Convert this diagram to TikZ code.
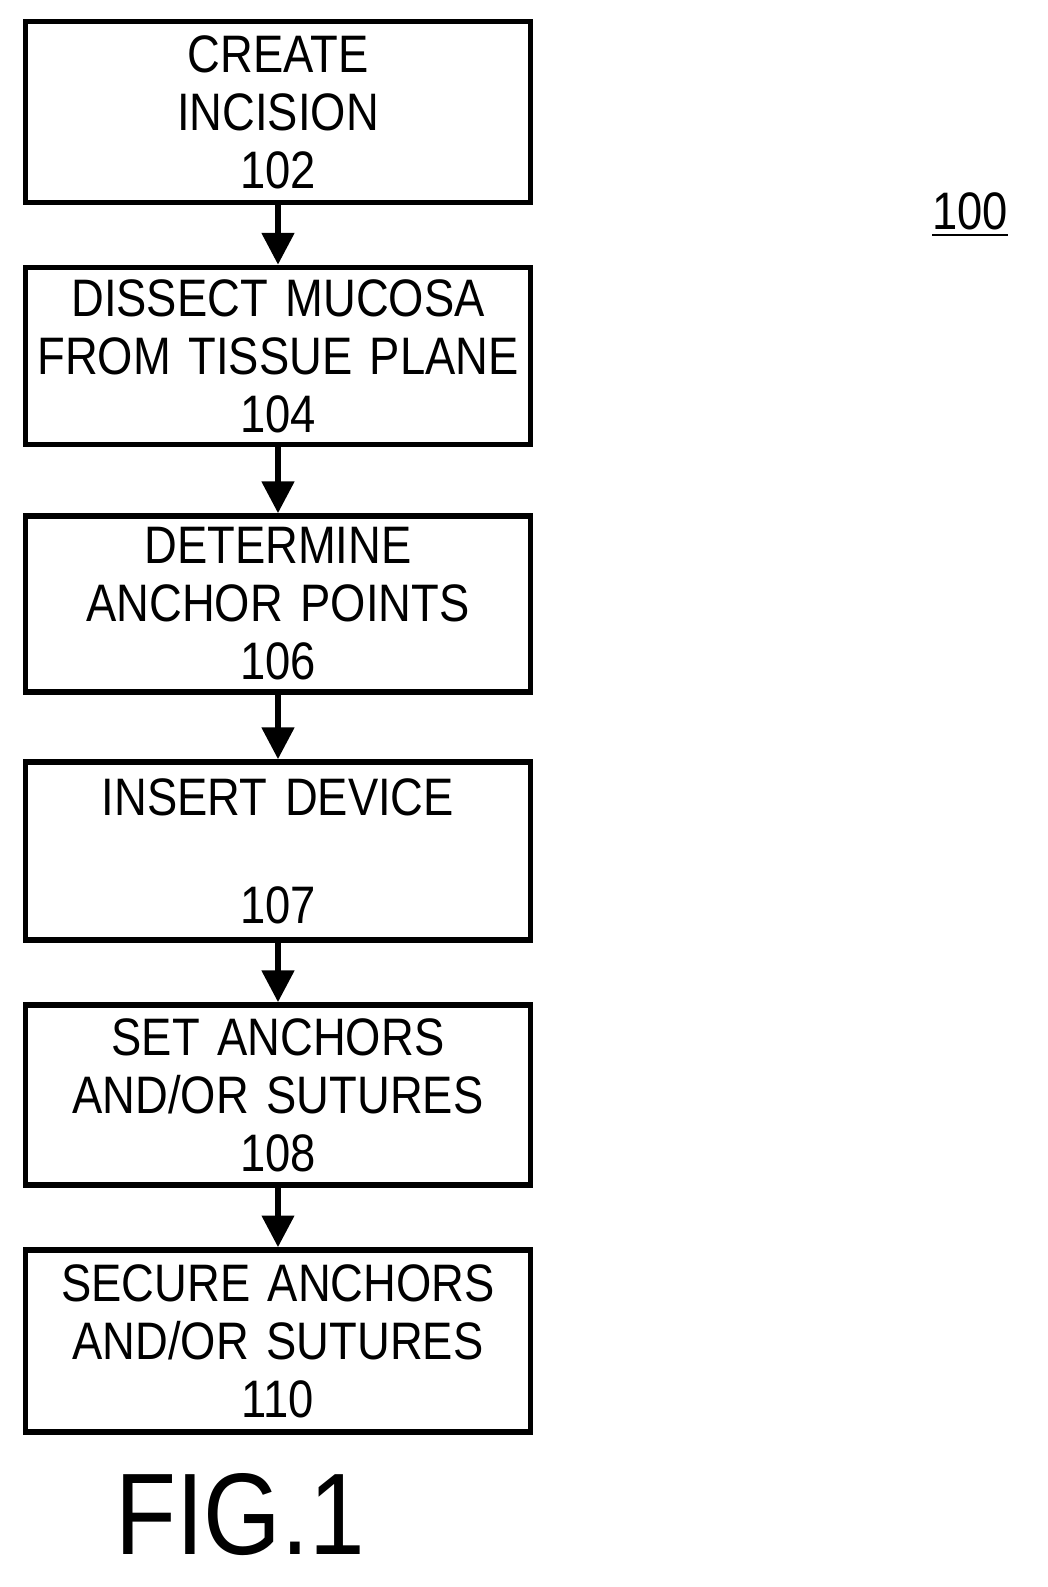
\documentclass[tikz,border=0pt]{standalone}
\usepackage{fontspec}
\setmainfont{Liberation Sans}[FakeStretch=0.86]
\usetikzlibrary{arrows.meta}
\begin{document}
\begin{tikzpicture}[x=0.01cm,y=-0.01cm,
  stepbox/.style={draw,line width=1.6pt,minimum width=5.05cm,inner sep=0pt,align=center,
    font=\fontsize{15}{16.5}\selectfont,text width=5cm},
  conn/.style={line width=1.6pt,-{Triangle[length=9pt,width=9pt]}}]
\useasboundingbox (0,0) rectangle (1047,1587);
\node[stepbox,minimum height=1.81cm] (b1) at (278,112) {CREATE\\INCISION\\102};
\node[stepbox,minimum height=1.77cm] (b2) at (278,356) {DISSECT MUCOSA\\FROM TISSUE PLANE\\104};
\node[stepbox,minimum height=1.76cm] (b3) at (278,604) {DETERMINE\\ANCHOR POINTS\\106};
\node[stepbox,minimum height=1.78cm] (b4) at (278,851) {INSERT DEVICE\\[0.5cm]107};
\node[stepbox,minimum height=1.80cm] (b5) at (278,1095) {SET ANCHORS\\AND/OR SUTURES\\108};
\node[stepbox,minimum height=1.82cm] (b6) at (278,1341) {SECURE ANCHORS\\AND/OR SUTURES\\110};
\draw[conn] (b1) -- (b2);
\draw[conn] (b2) -- (b3);
\draw[conn] (b3) -- (b4);
\draw[conn] (b4) -- (b5);
\draw[conn] (b5) -- (b6);
\node[font=\fontsize{15}{16}\selectfont,inner sep=1pt] (ref) at (970,215) {\underline{100}};
\node[font=\fontsize{33}{35}\selectfont] (fig) at (240,1515) {FIG.1};
\end{tikzpicture}
\end{document}
